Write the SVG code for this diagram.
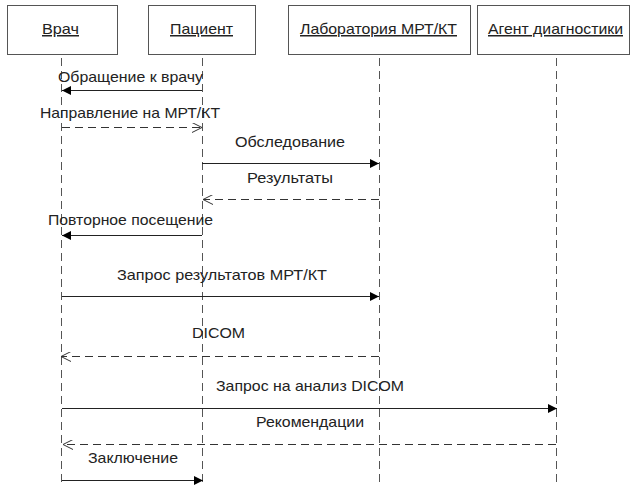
<svg xmlns="http://www.w3.org/2000/svg" width="630" height="488" viewBox="0 0 630 488">
<style>
.box{fill:#fff;stroke:#555;stroke-width:1}
.hd{font-family:"Liberation Sans",Arial,sans-serif;font-size:15px;fill:#222;text-anchor:middle;text-decoration:underline}
.lbl{font-family:"Liberation Sans",Arial,sans-serif;font-size:15px;fill:#222;text-anchor:middle}
.life{stroke:#555;stroke-width:1;stroke-dasharray:8,5;fill:none}
.sync{stroke:#222;stroke-width:1;fill:none}
.ret{stroke:#333;stroke-width:1;stroke-dasharray:8,5;fill:none}
</style>
<defs>
<marker id="filled" viewBox="0 0 10 10" refX="10" refY="5" markerWidth="9" markerHeight="9" markerUnits="userSpaceOnUse" orient="auto">
<path d="M0,0 L10,5 L0,10 Z" fill="#000"/>
</marker>
<marker id="open" viewBox="0 0 10 10" refX="10" refY="5" markerWidth="10" markerHeight="10" markerUnits="userSpaceOnUse" orient="auto">
<path d="M0,0 L10,5 L0,10" fill="none" stroke="#333" stroke-width="1"/>
</marker>
</defs>
<g id="n-vrach"><rect class="box" x="7.5" y="5.5" width="110" height="49"/><text class="hd" x="60.5" y="34" textLength="37" lengthAdjust="spacingAndGlyphs">Врач</text></g>
<g id="n-patient"><rect class="box" x="148.5" y="5.5" width="107" height="49"/><text class="hd" x="201.5" y="34" textLength="63" lengthAdjust="spacingAndGlyphs">Пациент</text></g>
<g id="n-lab"><rect class="box" x="288.5" y="5.5" width="182" height="49"/><text class="hd" x="378.5" y="34" textLength="157" lengthAdjust="spacingAndGlyphs">Лаборатория МРТ/КТ</text></g>
<g id="n-agent"><rect class="box" x="477.5" y="5.5" width="152" height="49"/><text class="hd" x="555.5" y="34" textLength="135" lengthAdjust="spacingAndGlyphs">Агент диагностики</text></g>
<g id="lifelines">
<line class="life" x1="61.5" y1="58" x2="61.5" y2="484"/>
<line class="life" x1="202.5" y1="58" x2="202.5" y2="484"/>
<line class="life" x1="379.5" y1="58" x2="379.5" y2="484"/>
<line class="life" x1="556.5" y1="58" x2="556.5" y2="484"/>
</g>
<g id="connectors">
<line class="sync" x1="202" y1="90.5" x2="62" y2="90.5" marker-end="url(#filled)"/>
<line class="ret" x1="62" y1="127.5" x2="202" y2="127.5" marker-end="url(#open)"/>
<line class="sync" x1="202" y1="163.5" x2="379" y2="163.5" marker-end="url(#filled)"/>
<line class="ret" x1="379" y1="199.5" x2="203" y2="199.5" marker-end="url(#open)"/>
<line class="sync" x1="202" y1="235.5" x2="62" y2="235.5" marker-end="url(#filled)"/>
<line class="sync" x1="62" y1="296.5" x2="379" y2="296.5" marker-end="url(#filled)"/>
<line class="ret" x1="379" y1="356.5" x2="61" y2="356.5" marker-end="url(#open)"/>
<line class="sync" x1="62" y1="408.5" x2="557" y2="408.5" marker-end="url(#filled)"/>
<line class="ret" x1="556" y1="444.5" x2="63" y2="444.5" marker-end="url(#open)"/>
<line class="sync" x1="62" y1="480.5" x2="203" y2="480.5" marker-end="url(#filled)"/>
</g>
<g id="labels">
<text class="lbl" x="130.5" y="82" textLength="145" lengthAdjust="spacingAndGlyphs">Обращение к врачу</text>
<text class="lbl" x="130" y="118" textLength="180" lengthAdjust="spacingAndGlyphs">Направление на МРТ/КТ</text>
<text class="lbl" x="290" y="147" textLength="110" lengthAdjust="spacingAndGlyphs">Обследование</text>
<text class="lbl" x="290" y="183" textLength="86" lengthAdjust="spacingAndGlyphs">Результаты</text>
<text class="lbl" x="130.5" y="225" textLength="165" lengthAdjust="spacingAndGlyphs">Повторное посещение</text>
<text class="lbl" x="222" y="280" textLength="210" lengthAdjust="spacingAndGlyphs">Запрос результатов МРТ/КТ</text>
<text class="lbl" x="218.5" y="338" textLength="53" lengthAdjust="spacingAndGlyphs">DICOM</text>
<text class="lbl" x="310" y="391" textLength="188" lengthAdjust="spacingAndGlyphs">Запрос на анализ DICOM</text>
<text class="lbl" x="310" y="427" textLength="108" lengthAdjust="spacingAndGlyphs">Рекомендации</text>
<text class="lbl" x="133" y="463" textLength="90" lengthAdjust="spacingAndGlyphs">Заключение</text>
</g>
</svg>
